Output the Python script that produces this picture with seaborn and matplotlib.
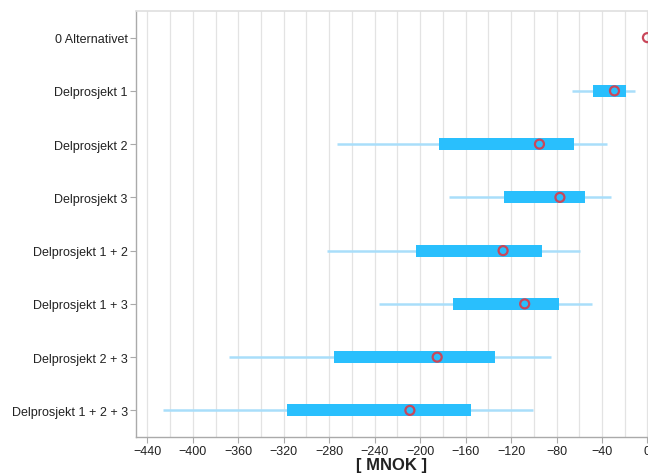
import numpy as np
import pandas as pd
import matplotlib
matplotlib.use("Agg")
import matplotlib.pyplot as plt
import seaborn as sns

categories = ["0 Alternativet", "Delprosjekt 1", "Delprosjekt 2", "Delprosjekt 3",
              "Delprosjekt 1 + 2", "Delprosjekt 1 + 3", "Delprosjekt 2 + 3",
              "Delprosjekt 1 + 2 + 3"]
whisker_low = [np.nan, -66, -273, -175, -282, -236, -368, -426]
whisker_high = [np.nan, -11, -36, -32, -59, -49, -85, -101]
box_low = [np.nan, -48, -183, -126, -204, -171, -276, -317]
box_high = [np.nan, -19, -65, -55, -93, -78, -134, -155]
mean_vals = [0, -29, -95, -77, -127, -108, -185, -209]

sns.set_theme(style="white")
plt.rcParams['font.family'] = ['Liberation Sans', 'DejaVu Sans']

df = pd.DataFrame({"cat": categories, "wl": whisker_low, "wh": whisker_high,
                   "bl": box_low, "bh": box_high, "mean": mean_vals})
df["y"] = np.arange(len(df))

fig = plt.figure(figsize=(6.48, 4.77), dpi=100)
ax = fig.add_axes([136/648, 1-438/477, 1-136/648, (438-12)/477])

# gridlines every 20
for v in range(-440, 1, 20):
    ax.axvline(v, color="#e3e3e3", lw=0.9, zorder=0)

ax.hlines(df["y"], df["wl"], df["wh"], color="#a9defa", lw=1.8, zorder=2)
ax.barh(df["y"], df["bh"] - df["bl"], left=df["bl"], height=0.23,
        color="#29bffd", edgecolor="none", zorder=3)
sns.scatterplot(data=df, x="mean", y="y", ax=ax, marker="o", s=42,
                facecolor="none", edgecolor="#c9475a", linewidth=1.6, zorder=4,
                clip_on=True, legend=False)

ax.set_xlim(-450, 0.5)
ax.set_ylim(7.5, -0.5)
ax.set_xticks(np.arange(-440, 1, 40))
ax.set_xticklabels([f"\u2212{abs(v)}" if v < 0 else "0" for v in range(-440, 1, 40)])
ax.set_yticks(df["y"])
ax.set_yticklabels(categories)
ax.tick_params(axis="both", length=4,
               width=0.8, direction="out", bottom=True, left=True, pad=2,
               color="#aaaaaa", labelcolor="#222222")
ax.tick_params(axis="y", labelsize=9.0)
ax.tick_params(axis="x", labelsize=9)
ax.set_xlabel("[ MNOK ]", fontsize=12, fontweight="bold", color="#222222", labelpad=0)
ax.set_ylabel("")
for s in ["left", "bottom"]:
    ax.spines[s].set_color("#aaaaaa")
    ax.spines[s].set_linewidth(1.0)
ax.spines["top"].set_color("#e0e0e0")
ax.spines["right"].set_visible(False)

fig.savefig("out.png", dpi=100)
